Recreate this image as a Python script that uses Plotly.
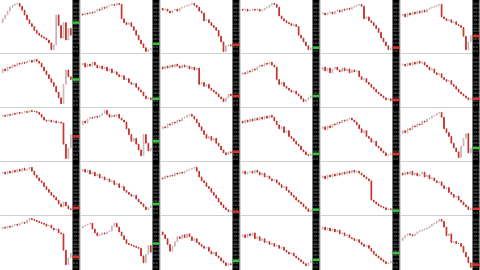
import plotly.graph_objects as go

# closing prices per panel (row r, column c), 30 sessions each
r0c0 = [33,37,41,45,49,51,52,53,50,46,41,36,32,29,25,22,20,18,17,15,12,5,10,41,30,17,33,15,27,20]
r0c1 = [42,41,43,42,44,43,45,47,46,49,48,50,51,52,51,53,52,37,33,31,33,29,25,20,15,11,7,3,5,6]
r0c2 = [48,46,47,45,43,46,47,45,48,49,50,51,52,53,51,49,45,43,35,36,33,30,28,25,19,13,3,9,10,9]
r0c3 = [47,46,47,45,46,47,46,47,45,46,48,49,51,53,52,49,40,37,35,33,32,30,31,29,20,17,13,9,5,7]
r0c4 = [42,43,41,43,44,42,45,46,44,47,46,48,47,49,50,51,52,50,37,39,35,33,30,27,23,17,13,9,5,6]
r0c5 = [40,42,39,43,41,44,42,45,43,46,44,47,48,49,50,51,52,39,37,35,36,33,34,31,30,28,19,5,13,20]

r1c0 = [37,41,39,43,42,45,44,47,46,48,47,49,50,48,51,49,47,43,39,35,31,27,23,17,11,5,25,40,33,30]
r1c1 = [45,47,43,46,44,48,45,42,44,41,43,39,41,37,38,35,33,34,30,31,27,25,26,22,19,17,13,10,11,9]
r1c2 = [43,41,44,42,45,43,46,44,42,45,43,44,41,43,40,42,25,27,23,25,21,19,17,15,12,10,7,11,15,13]
r1c3 = [35,37,36,39,38,41,40,43,45,44,47,46,48,45,43,30,25,27,23,21,19,17,18,15,13,10,7,9,11,13]
r1c4 = [40,43,39,42,37,41,43,40,38,42,39,41,37,40,38,39,33,30,31,27,25,22,20,17,15,13,11,9,10,8]
r1c5 = [45,46,44,47,45,48,46,49,47,48,45,43,40,41,37,35,36,32,30,28,29,25,23,20,17,15,13,11,9,10]

r2c0 = [48,49,48,50,49,51,50,52,51,52,53,52,54,53,53,52,50,47,44,43,44,42,43,41,42,41,19,4,15,29]
r2c1 = [39,43,41,45,47,46,48,47,49,51,54,50,47,49,48,50,46,44,42,35,29,22,25,19,13,7,29,20,12,15]
r2c2 = [35,37,36,40,39,42,41,44,43,46,47,49,50,48,45,41,37,33,29,25,27,23,25,20,17,13,10,8,11,10]
r2c3 = [43,41,44,42,45,43,46,44,47,45,48,46,49,47,43,39,35,37,31,33,27,25,22,19,17,13,11,8,7,9]
r2c4 = [35,37,34,38,36,40,39,42,41,44,43,45,46,44,42,39,35,31,33,27,25,21,22,17,15,12,10,7,8,9]
r2c5 = [30,33,31,35,34,38,37,40,39,43,42,45,46,48,49,51,52,47,35,31,27,20,15,11,5,17,25,30,10,15]

r3c0 = [45,46,44,47,45,48,46,49,47,50,48,49,51,47,43,40,37,35,31,28,25,22,20,17,13,10,15,11,8,7]
r3c1 = [47,49,46,48,44,46,42,44,40,41,38,39,36,37,33,34,30,31,27,25,23,21,22,18,15,13,10,7,9,11]
r3c2 = [40,39,42,41,43,42,45,44,46,45,47,48,49,50,51,47,41,37,35,31,29,25,22,19,15,12,9,7,5,6]
r3c3 = [45,47,44,46,47,45,48,46,43,45,41,42,39,37,38,35,33,30,31,27,25,22,20,17,15,13,10,8,5,7]
r3c4 = [40,42,39,43,41,44,42,45,43,46,44,47,45,48,46,47,45,43,41,39,37,17,15,13,11,10,9,7,8,7]
r3c5 = [45,43,46,44,47,43,45,42,44,46,41,43,39,40,37,35,36,32,29,30,25,23,20,21,17,15,12,10,7,8]

r4c0 = [43,45,44,46,45,47,48,47,49,50,49,52,54,53,52,51,50,49,48,46,47,44,42,43,39,38,21,6,13,18]
r4c1 = [44,46,47,48,49,43,39,36,37,39,38,40,41,46,49,45,40,36,32,28,27,26,25,24,23,15,8,17,26,19]
r4c2 = [40,37,33,27,20,25,30,35,33,37,34,38,35,31,33,29,27,25,23,24,20,17,19,15,13,10,8,5,7,6]
r4c3 = [35,37,34,38,36,39,33,35,31,33,29,30,27,28,25,26,23,24,21,19,17,18,15,13,11,9,7,5,8,10]
r4c4 = [43,45,42,44,41,43,40,42,38,39,36,37,34,33,31,32,29,27,25,26,23,20,17,15,13,11,9,7,8,10]
r4c5 = [31,34,36,38,37,36,38,40,41,42,43,44,46,48,49,51,53,51,45,36,38,29,30,28,28,25,19,14,8,3]

panels = [
    [r0c0, r0c1, r0c2, r0c3, r0c4, r0c5],
    [r1c0, r1c1, r1c2, r1c3, r1c4, r1c5],
    [r2c0, r2c1, r2c2, r2c3, r2c4, r2c5],
    [r3c0, r3c1, r3c2, r3c3, r3c4, r3c5],
    [r4c0, r4c1, r4c2, r4c3, r4c4, r4c5],
]

# price-tag level shown on each panel's axis strip, and whether it is up (g) or down (r)
tag_levels = [
    [33, 11, 10, 7, 7, 19],
    [30, 10, 13, 13, 9, 10],
    [27, 22, 11, 9, 9, 15],
    [9, 13, 5, 7, 6, 8],
    [14, 28, 10, 11, 18, 6],
]
tag_kinds = [
    ["g", "g", "r", "g", "r", "r"],
    ["g", "g", "r", "g", "r", "r"],
    ["r", "g", "r", "g", "r", "g"],
    ["r", "g", "r", "g", "g", "r"],
    ["r", "g", "g", "g", "g", "r"],
]

W, H = 480, 270
COLW, ROWH = 80, 54
PLOTW = 72
UP_LINE, DOWN = "#c9b0b0", "#c3312c"
TAG = {"g": "#35c43a", "r": "#e0302a"}

fig = go.Figure()
shapes = []
layout = dict(
    width=W, height=H, margin=dict(l=0, r=0, t=0, b=0),
    paper_bgcolor="white", plot_bgcolor="rgba(0,0,0,0)", showlegend=False,
    boxgap=0.6,
)

# panel separators
for r in range(1, 5):
    y = 1 - (ROWH * r - 0.5) / H
    shapes.append(dict(type="line", xref="paper", yref="paper", x0=0, x1=1, y0=y, y1=y,
                       line=dict(color="#cfcfcf", width=1), layer="below"))
for c in range(1, 6):
    x = (COLW * c + 0.5) / W
    shapes.append(dict(type="line", xref="paper", yref="paper", x0=x, x1=x, y0=0, y1=1,
                       line=dict(color="#d6d6d6", width=1), layer="below"))
# black price-axis strips
for c in range(6):
    shapes.append(dict(type="rect", xref="paper", yref="paper",
                       x0=(COLW * c + PLOTW + 0.5) / W, x1=(COLW * c + 79.5) / W, y0=0, y1=1,
                       fillcolor="black", line=dict(width=0), layer="below"))

for r in range(5):
    for c in range(6):
        n = r * 6 + c + 1
        sfx = "" if n == 1 else str(n)
        closes = panels[r][c]
        opens = closes[:-1]
        cl = closes[1:]
        hi = [max(a, b) for a, b in zip(opens, cl)]
        lo = [min(a, b) for a, b in zip(opens, cl)]
        xs = list(range(1, len(closes)))
        fig.add_trace(go.Candlestick(
            x=xs, open=opens, high=hi, low=lo, close=cl,
            xaxis="x" + sfx, yaxis="y" + sfx,
            increasing=dict(line=dict(color=UP_LINE, width=1), fillcolor="white"),
            decreasing=dict(line=dict(color=DOWN, width=1), fillcolor=DOWN),
            hoverinfo="skip",
        ))
        x0 = (COLW * c + 1) / W
        x1 = (COLW * c + PLOTW) / W
        y1 = 1 - (ROWH * r + 1) / H
        y0 = 1 - (ROWH * r + 53) / H
        layout["xaxis" + sfx] = dict(
            domain=[x0, x1], anchor="y" + sfx, range=[0.3, len(closes) - 0.5],
            showgrid=False, zeroline=False, showticklabels=False, ticks="",
            rangeslider=dict(visible=False), fixedrange=True,
        )
        layout["yaxis" + sfx] = dict(
            domain=[y0, y1], anchor="x" + sfx, side="right", range=[1.5, 55.5],
            showgrid=False, zeroline=False, ticks="", dtick=4, tickformat=".1f",
            tickfont=dict(size=3, color="#9a9a9a", family="DejaVu Sans"),
            fixedrange=True,
        )
        lvl = tag_levels[r][c]
        shapes.append(dict(type="rect", xref="paper", yref="y" + sfx,
                           x0=(COLW * c + PLOTW + 0.5) / W, x1=(COLW * c + 79.5) / W,
                           y0=lvl - 1.3, y1=lvl + 1.3,
                           fillcolor=TAG[tag_kinds[r][c]], line=dict(width=0), layer="above"))

layout["shapes"] = shapes
fig.update_layout(**layout)
fig.write_html("out.html")
